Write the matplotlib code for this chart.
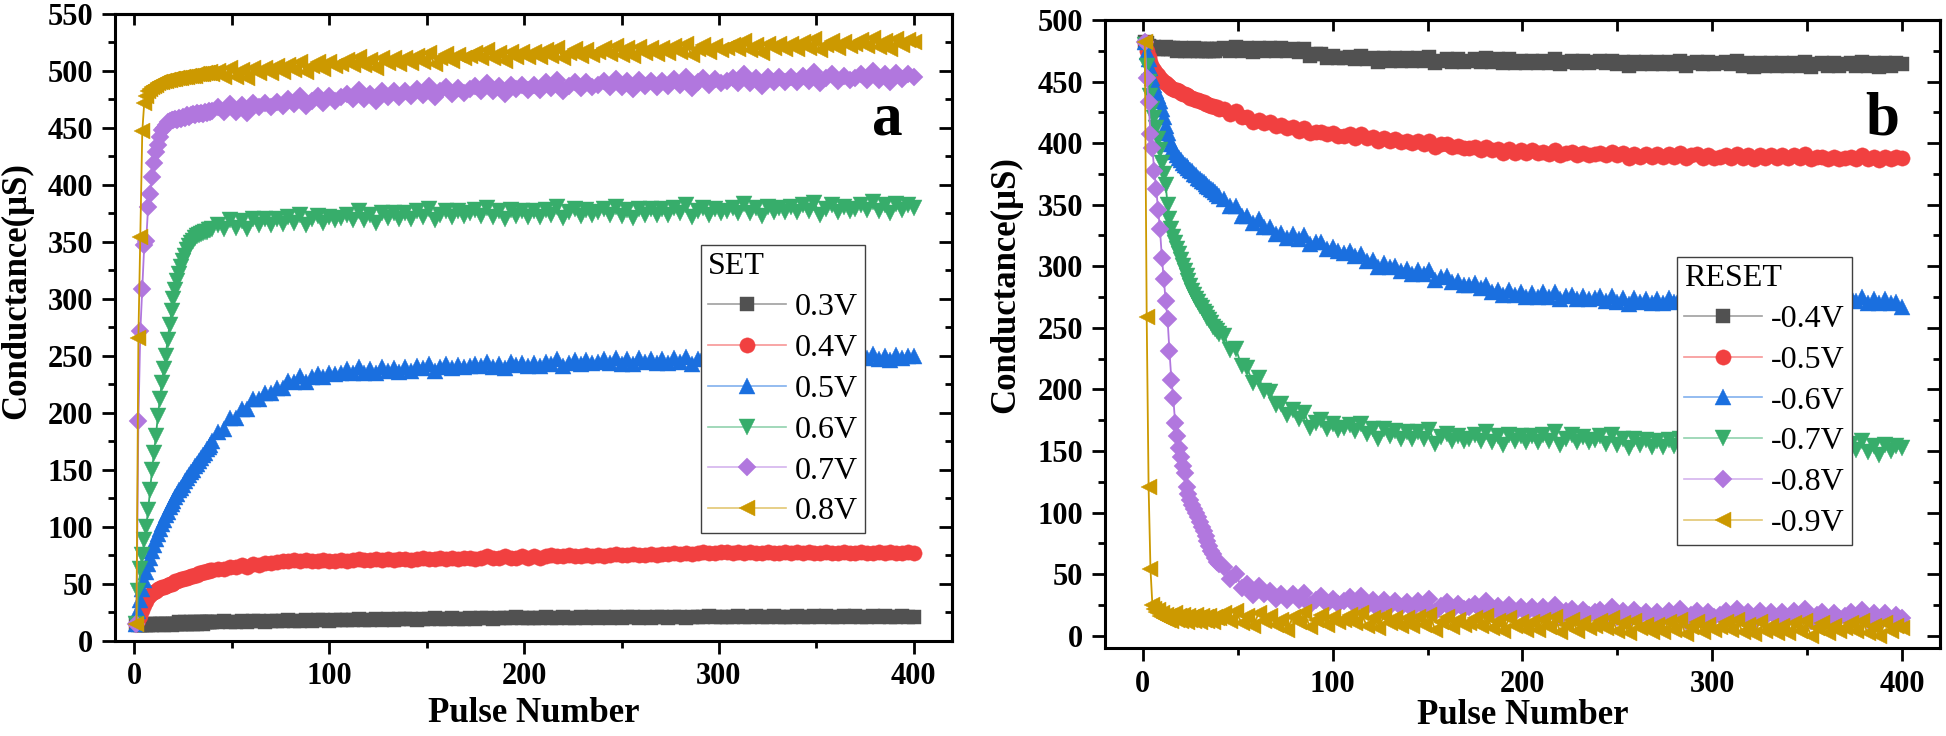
import matplotlib
matplotlib.use('Agg')
import matplotlib.pyplot as plt
from matplotlib.ticker import MultipleLocator
from matplotlib.colors import to_rgb

plt.rcParams['font.family'] = ['Liberation Serif', 'DejaVu Serif']
plt.rcParams['font.weight'] = 'bold'

# ---------------- data ----------------
# pulses 1..39 one by one, then every 3rd pulse up to 400
PULSES = list(range(1, 40)) + list(range(40, 401, 3))

SET_LABELS = ['0.3V', '0.4V', '0.5V', '0.6V', '0.7V', '0.8V']
RESET_LABELS = ['-0.4V', '-0.5V', '-0.6V', '-0.7V', '-0.8V', '-0.9V']

set_03 = [15,14,14,14,14,14,14,15,14,15, 15,14,15,15,14,15,15,15,14,15, 15,15,16,15,15,16,15,15,16,15, 16,15,16,16,15,16,16,16,16,
          16,16,17,16,16,17,16,17,17,16,17,
          17,17,18,17,17,18,17,18,18,17,18,
          18,18,18,19,18,18,19,18,19,18,19,
          19,19,18,19,19,20,19,19,20,19,19,
          20,19,20,20,19,20,20,20,21,20,20,
          20,20,21,20,20,21,20,20,21,20,21,
          20,21,20,21,20,21,21,20,21,20,21,
          21,20,21,21,20,21,21,21,22,21,21,
          21,21,22,21,21,22,21,21,22,21,21,
          21,22,21,21,22,21,22,21,21,22,21,
          22,21,21,22,21,22,21,21,22,21,21]
set_04 = [15,18,22,27,31,35,38,40,42,43, 44,45,46,47,47,48,49,50,50,51, 52,52,53,54,54,55,55,56,57,57, 58,58,59,59,60,60,61,61,62,
          62,63,63,65,65,66,65,67,66,68,68,
          69,70,70,71,70,71,70,70,71,70,70,
          71,70,71,72,71,71,72,71,72,71,72,
          72,71,72,73,72,72,73,72,73,72,73,
          73,72,73,74,73,73,74,73,73,74,73,
          74,73,74,75,74,74,75,74,74,75,74,
          75,74,75,76,75,75,76,75,75,76,75,
          76,76,77,76,77,76,77,78,77,77,78,
          78,77,78,77,78,77,77,78,77,77,78,
          77,78,77,78,77,77,78,77,77,78,77,
          77,78,77,77,78,77,78,77,77,78,77]
set_05 = [15,26,36,45,53,60,67,73,79,84, 89,94,98,102,106,110,113,117,120,123, 126,129,132,134,137,140,143,145,148,150, 153,155,158,160,163,165,168,170,172,
          175,183,186,195,195,203,203,212,212,217,217,
          222,222,228,227,232,227,231,234,231,235,234,
          235,238,235,240,235,238,235,240,237,239,236,
          240,237,241,239,243,237,240,243,239,242,240,
          241,243,241,245,240,243,239,245,242,244,241,
          244,241,245,243,247,241,244,246,243,246,244,
          245,247,244,248,243,247,243,248,245,247,244,
          247,244,248,245,249,243,247,249,245,248,246,
          247,249,246,250,245,248,245,250,247,249,246,
          249,246,250,247,251,245,248,250,246,250,248,
          249,251,248,252,247,250,246,251,248,250,250]
set_06 = [15,44,63,75,88,100,115,132,150,165, 180,197,212,226,238,250,264,277,289,300, 308,316,322,328,333,338,343,346,349,351, 353,355,356,357,358,359,359,360,360,
          361,365,361,369,362,368,361,370,365,370,365,
          370,366,372,367,374,365,370,373,367,372,369,
          371,374,369,377,369,374,367,375,371,375,370,
          375,370,377,372,379,369,374,377,372,377,373,
          375,378,373,380,372,377,370,378,373,377,372,
          377,372,378,374,381,371,376,379,373,378,374,
          376,379,374,381,373,378,371,379,374,379,374,
          379,374,380,375,382,372,377,380,374,379,375,
          377,380,375,383,375,380,373,381,376,380,376,
          381,376,382,377,384,374,379,382,376,381,377,
          379,382,378,385,377,382,375,383,378,382,380]
set_07 = [15,193,272,309,347,351,381,392,407,419, 429,435,442,448,450,453,455,456,457,457, 458,457,459,458,460,459,461,460,461,462, 461,463,462,463,462,464,463,465,464,
          465,468,464,471,464,470,463,472,468,472,468,
          473,469,475,471,478,469,474,478,472,478,474,
          477,480,475,483,475,480,474,482,477,482,477,
          482,478,484,479,487,477,482,486,480,485,481,
          484,487,482,489,482,487,480,488,484,488,483,
          488,483,490,485,492,482,487,490,485,490,486,
          488,491,486,493,486,491,484,492,487,491,486,
          491,487,493,488,495,485,490,494,488,493,489,
          491,494,489,497,489,494,487,495,490,495,490,
          495,490,496,491,499,489,494,497,491,496,492,
          494,497,492,500,492,497,490,498,493,497,495]
set_08 = [15,266,354,447,472,478,482,484,486,487, 488,489,490,490,491,491,492,492,493,493, 493,494,494,494,495,495,495,496,496,496, 496,497,497,497,497,498,498,498,499,
          497,500,495,503,495,501,494,503,498,503,498,
          504,499,505,501,508,499,504,508,502,508,504,
          506,510,505,512,505,510,503,511,507,511,506,
          511,507,513,508,516,506,511,515,509,514,511,
          513,516,511,518,511,516,509,517,512,517,512,
          517,512,518,513,520,511,516,519,513,518,514,
          517,520,515,522,514,520,513,521,516,520,515,
          520,516,522,517,524,514,519,523,517,522,518,
          520,523,519,526,518,523,516,524,520,524,519,
          524,519,525,520,528,518,523,526,520,525,522,
          524,527,522,529,521,526,519,528,523,527,525]

rst_04 = [482,481,479,478,477,478,477,476,477,476, 477,478,476,477,476,477,476,475,476,477, 476,475,476,476,475,476,477,476,475,476, 475,476,475,476,475,476,475,475,476,
          476,477,475,478,475,477,474,477,475,477,475,
          477,475,476,474,476,471,472,472,469,471,469,
          469,470,468,471,468,469,466,469,467,469,467,
          469,467,469,467,470,465,467,468,466,468,466,
          467,468,466,469,466,468,465,468,465,467,465,
          467,465,467,465,468,464,466,467,465,467,465,
          466,467,465,467,464,466,463,466,464,466,464,
          466,464,466,464,467,463,465,466,464,466,464,
          465,466,464,467,463,465,462,465,463,465,463,
          465,463,465,463,466,462,464,465,463,465,463,
          464,465,463,466,463,465,462,465,463,465,464]
rst_05 = [482,475,470,466,462,459,457,455,453,451, 450,449,447,446,445,444,443,443,442,441, 440,440,439,438,437,437,436,435,435,434, 433,433,432,432,431,430,430,429,429,
          428,428,424,426,421,421,417,419,416,417,414,
          415,412,413,410,412,408,409,409,407,408,406,
          406,407,404,407,404,405,402,404,402,403,401,
          402,400,402,399,402,397,399,399,397,398,396,
          396,397,394,397,394,395,392,395,392,394,392,
          394,392,393,391,394,390,392,393,390,392,390,
          391,392,390,393,390,392,388,391,389,391,389,
          391,389,391,389,392,388,390,391,388,390,388,
          389,390,388,391,388,390,387,390,388,390,388,
          390,388,390,388,391,387,389,389,387,389,387,
          388,389,387,390,387,389,386,389,387,389,388]
rst_06 = [482,474,468,461,453,447,442,438,434,428, 421,414,408,403,399,396,393,390,388,386, 384,382,381,380,378,377,375,374,372,371, 369,368,367,365,364,363,362,360,359,
          357,355,349,349,341,341,335,338,332,332,326,
          327,323,326,322,325,318,320,320,314,316,312,
          311,312,308,310,304,305,299,303,299,300,296,
          298,294,297,294,297,289,291,292,287,288,285,
          285,286,282,285,279,281,277,281,277,279,275,
          278,275,279,275,279,273,276,277,273,276,273,
          274,276,272,276,271,274,269,274,271,273,270,
          273,270,274,271,275,270,273,275,271,274,272,
          274,276,273,277,272,275,271,276,273,275,272,
          275,272,276,273,277,271,273,275,271,274,272,
          273,275,272,275,270,273,270,273,270,271,267]
rst_07 = [480,463,450,438,428,420,412,403,394,384, 375,366,350,338,330,324,319,314,310,305, 300,296,292,288,284,280,277,273,271,268, 266,263,261,258,256,254,251,249,247,
          245,243,232,233,219,217,205,209,199,198,187,
          188,179,183,176,181,169,173,175,168,172,167,
          169,171,166,172,164,168,160,168,162,166,160,
          165,160,165,160,167,156,161,164,158,162,158,
          160,163,158,165,157,162,155,163,158,162,157,
          162,157,163,158,165,155,160,163,157,161,157,
          159,162,156,163,155,160,152,160,155,159,153,
          158,153,159,154,160,150,155,158,152,157,153,
          155,158,153,160,151,156,149,157,152,156,151,
          156,151,156,151,158,148,153,156,150,155,151,
          153,156,151,158,149,154,147,155,150,154,152]
rst_08 = [482,453,433,407,396,377,363,346,330,307, 290,272,257,231,208,193,173,162,152,145, 138,132,121,115,110,106,103,100,96,92, 88,85,81,77,73,69,66,63,60,
          58,56,46,50,39,42,33,40,34,36,30,
          34,29,34,29,35,25,29,32,26,30,26,
          28,31,25,32,24,29,22,29,24,28,23,
          27,22,28,23,30,19,24,27,21,26,22,
          23,26,21,28,19,24,17,25,19,23,18,
          23,18,23,18,25,15,20,22,16,21,17,
          19,21,16,23,15,20,13,21,16,19,14,
          19,14,20,15,22,12,17,20,14,19,15,
          17,20,15,22,14,19,12,20,15,19,14,
          19,14,20,15,22,12,17,19,13,18,14,
          16,19,14,21,13,18,11,18,13,17,14]
rst_09 = [482,259,121,54,25, 22,19,21,16,18,14,17,13,16,12, 15,18,13,16,12,17,14,11,16,13, 15,12,17,14,11,16,13,15,12,16, 13,11,15,14,
          14,18,12,20,10,16,8,18,12,16,9,
          13,5,15,11,19,7,13,17,9,15,11,
          13,17,10,18,8,14,6,16,10,14,8,
          14,8,15,9,17,5,11,15,7,13,9,
          10,14,8,16,6,12,4,14,8,11,5,
          11,5,13,7,15,3,9,13,4,10,6,
          8,12,6,14,4,10,2,12,6,9,3,
          9,3,11,5,13,1,7,11,3,9,5,
          7,11,5,13,3,9,1,11,4,8,2,
          8,2,10,4,12,0,6,10,2,8,4,
          6,10,4,12,2,8,0,10,4,8,6]

SET_DATA = [set_03, set_04, set_05, set_06, set_07, set_08]
RESET_DATA = [rst_04, rst_05, rst_06, rst_07, rst_08, rst_09]

# ---------------- styles ----------------
COLORS = ['#515151', '#F14040', '#1A6FDF', '#37AD6B', '#B177DE', '#CC9900']
MARKERS = ['s', 'o', '^', 'v', 'D', '<']
MSIZES = [9.6, 11.0, 12.0, 12.0, 9.0, 12.0]

fig = plt.figure(figsize=(19.46, 7.36), dpi=100)
axL = fig.add_axes([0.0591, 0.1295, 0.4300, 0.8515])
axR = fig.add_axes([0.5678, 0.1196, 0.4291, 0.8533])


def lighten(c, f=0.45):
    r, g, b = to_rgb(c)
    return (r + (1 - r) * f, g + (1 - g) * f, b + (1 - b) * f)


def draw(ax, data, labels, title, xlim, ylim, letter, letter_xy, leg_anchor,
         ylab_xy, xlabpad):
    for y, lab, c, m, ms in zip(data, labels, COLORS, MARKERS, MSIZES):
        ax.plot(PULSES, y, color=c, lw=1.3, marker=m, ms=ms, mfc=c, mec=c,
                mew=0.3, label=lab)
    ax.set_xlim(*xlim)
    ax.set_ylim(*ylim)
    ax.xaxis.set_major_locator(MultipleLocator(100))
    ax.xaxis.set_minor_locator(MultipleLocator(50))
    ax.yaxis.set_major_locator(MultipleLocator(50))
    ax.yaxis.set_minor_locator(MultipleLocator(25))
    ax.tick_params(which='major', direction='out', length=9.5, width=2,
                   labelsize=22, pad=6, top=False, right=False)
    ax.tick_params(which='minor', direction='out', length=5, width=2,
                   top=False, right=False)
    for s in ax.spines.values():
        s.set_linewidth(2.2)
    secx = ax.secondary_xaxis('top')
    secx.xaxis.set_major_locator(MultipleLocator(100))
    secx.xaxis.set_minor_locator(MultipleLocator(50))
    secx.tick_params(which='both', direction='in', length=8, width=2, labeltop=False)
    secx.spines['top'].set_linewidth(2.2)
    secy = ax.secondary_yaxis('right')
    secy.yaxis.set_major_locator(MultipleLocator(50))
    secy.yaxis.set_minor_locator(MultipleLocator(25))
    secy.tick_params(which='major', direction='in', length=9.5, width=2, labelright=False)
    secy.tick_params(which='minor', direction='in', length=5, width=2, labelright=False)
    secy.spines['right'].set_linewidth(2.2)

    ax.set_xlabel('Pulse Number', fontsize=25, fontweight='bold', labelpad=xlabpad)
    ax.set_ylabel('Conductance(μS)', fontsize=25, fontweight='bold')
    ax.yaxis.set_label_coords(*ylab_xy)
    ax.text(letter_xy[0], letter_xy[1], letter, transform=ax.transAxes,
            fontsize=44, fontweight='bold', ha='center', va='baseline')
    leg = ax.legend(title=title, loc='upper left', bbox_to_anchor=leg_anchor,
                    borderaxespad=0, prop={'size': 23, 'weight': 'normal'},
                    title_fontproperties={'size': 23, 'weight': 'normal'},
                    frameon=True, fancybox=False, edgecolor='#404040',
                    framealpha=1, handlelength=2.45, handletextpad=0.28,
                    labelspacing=0.36, borderpad=0.22, alignment='left')
    leg.get_frame().set_linewidth(1.0)
    for line, c in zip(leg.get_lines(), COLORS):
        line.set_linewidth(1.2)
        line.set_color(lighten(c))
        line.set_markerfacecolor(c)
        line.set_markeredgecolor(c)


draw(axL, SET_DATA, SET_LABELS, 'SET', (-10, 419.5), (0, 550), 'a',
     (0.923, 0.807), (0.700, 0.631), (-0.098, 0.558), 4)
draw(axR, RESET_DATA, RESET_LABELS, 'RESET', (-20, 420), (-10, 500), 'b',
     (0.9305, 0.817), (0.685, 0.6226), (-0.0994, 0.578), 0)

fig.savefig('out.png', dpi=100)
